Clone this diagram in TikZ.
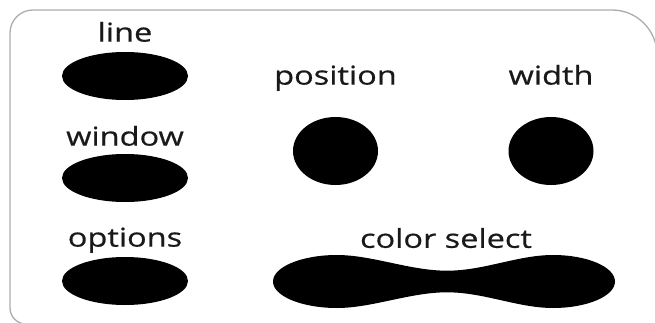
\documentclass[tikz,border=0pt]{standalone}
\usepackage{fontspec}
\newfontfamily\lblfont{Open Sans}[FakeStretch=1.25,FakeBold=0.6]
\usetikzlibrary{positioning,shapes.geometric}

\begin{document}
\begin{tikzpicture}[
  x=1pt,y=1pt,
  blob/.style={ellipse,fill=black,inner sep=0pt,minimum width=126pt,minimum height=48pt},
  knob/.style={ellipse,fill=black,inner sep=0pt,minimum width=85pt,minimum height=68pt},
  lbl/.style={inner sep=0pt,text depth=0pt,text=black!90,font=\lblfont\fontsize{26}{28}\selectfont},
  frame/.style={draw=gray!65,line width=1.3pt}
]
\useasboundingbox (0,0) rectangle (655,322);
% panel outline, runs off the right and bottom edges
\begin{scope}
\clip (0,0) rectangle (655,322);
\draw[frame] (700,-2) -- (26,-2) .. controls (17.2,-2) and (10,5.2) .. (10,14)
  -- (10,289) .. controls (10,301.7) and (20.3,312) .. (33,312)
  -- (612,312) .. controls (636.9,312) and (657,291.9) .. (657,267) -- (657,-20);
\end{scope}

% left column
\node[blob] (line) at (125,246) {};
\node[blob] (window) at (125,144) {};
\node[blob] (options) at (125,41) {};
\node[lbl,above=10pt of line] (linelbl) {line};
\node[lbl,above=8pt of window] (windowlbl) {window};
\node[lbl,above=10pt of options] (optionslbl) {options};

% knobs
\node[knob] (position) at (335.5,171) {};
\node[knob] (width) at (551,171) {};
\node[lbl,above=32pt of position] (positionlbl) {position};
\node[lbl,above=32pt of width] (widthlbl) {width};

% colour slider
\fill (273,40.5) .. controls (273,55.1) and (301.7,67) .. (337,67)
  .. controls (372,67) and (410,51.3) .. (447,51.3)
  .. controls (484,51.3) and (518,67) .. (553,67)
  .. controls (587.2,67) and (615,55.1) .. (615,40.5)
  .. controls (615,25.9) and (587.2,14) .. (553,14)
  .. controls (518,14) and (484,29.7) .. (447,29.7)
  .. controls (410,29.7) and (372,14) .. (337,14)
  .. controls (301.7,14) and (273,25.9) .. (273,40.5) -- cycle;
\coordinate (colorsel) at (446,67);
\node[lbl,above=7pt of colorsel] (colorlbl) {color select};
\end{tikzpicture}
\end{document}
